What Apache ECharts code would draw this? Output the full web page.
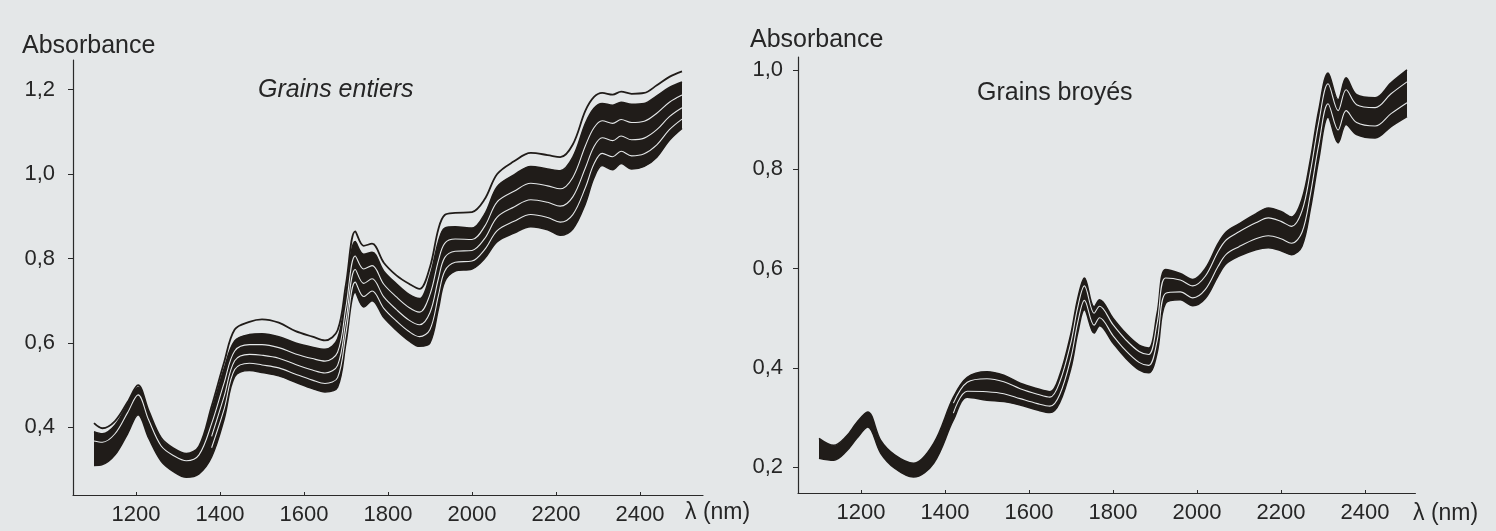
<!DOCTYPE html>
<html>
<head>
<meta charset="utf-8">
<title>Absorbance</title>
<script src="https://cdn.jsdelivr.net/npm/echarts@6/dist/echarts.min.js"></script>
<style>
  html, body { margin: 0; padding: 0; background: #e4e7e8; }
  #main { width: 1496px; height: 531px; }
</style>
</head>
<body>
<div id="main"></div>
<script>
// ---- données ----
// grains entiers (gauche)
const nmL = [1100,1120,1150,1180,1205,1230,1260,1290,1320,1350,1380,1410,1435,1470,1500,1540,1580,1620,1650,1680,1700,1722,1742,1762,1790,1820,1850,1875,1900,1920,1935,1960,2000,2030,2060,2100,2140,2180,2210,2240,2270,2290,2310,2335,2355,2380,2410,2440,2470,2500];
const hautL = [0.410,0.398,0.415,0.460,0.500,0.440,0.375,0.350,0.338,0.355,0.450,0.555,0.632,0.650,0.656,0.648,0.628,0.615,0.606,0.630,0.740,0.864,0.830,0.835,0.790,0.760,0.740,0.728,0.780,0.870,0.903,0.908,0.910,0.940,1.000,1.030,1.050,1.045,1.040,1.070,1.150,1.182,1.192,1.188,1.195,1.190,1.192,1.210,1.230,1.243];
const bandeHautL = [0.390,0.385,0.405,0.455,0.495,0.435,0.370,0.348,0.336,0.352,0.440,0.540,0.605,0.620,0.622,0.615,0.600,0.590,0.585,0.610,0.720,0.840,0.810,0.815,0.770,0.740,0.715,0.705,0.760,0.840,0.872,0.875,0.872,0.905,0.970,0.998,1.018,1.012,1.008,1.040,1.120,1.155,1.167,1.163,1.170,1.165,1.167,1.185,1.205,1.218];
const bandeBasL = [0.310,0.312,0.335,0.385,0.430,0.375,0.320,0.295,0.282,0.290,0.330,0.420,0.520,0.535,0.530,0.522,0.507,0.492,0.484,0.495,0.600,0.720,0.685,0.700,0.660,0.630,0.605,0.592,0.600,0.680,0.745,0.770,0.775,0.800,0.840,0.860,0.875,0.868,0.855,0.870,0.930,0.990,1.020,1.010,1.025,1.012,1.018,1.040,1.080,1.108];
// espaces clairs entre spectres
const trou1L = [0.368,0.365,0.385,0.435,0.477,0.418,0.356,0.333,0.321,0.335,0.409,0.506,0.581,0.596,0.596,0.589,0.574,0.563,0.557,0.578,0.686,0.806,0.775,0.783,0.739,0.709,0.684,0.673,0.715,0.795,0.836,0.846,0.845,0.876,0.934,0.959,0.978,0.972,0.965,0.992,1.067,1.109,1.126,1.120,1.129,1.122,1.125,1.144,1.170,1.187];
const trou2L = ['-','-','-','-','-','-','-','-','-','-',0.379,0.474,0.558,0.573,0.571,0.564,0.549,0.536,0.529,0.547,0.654,0.774,0.741,0.752,0.709,0.679,0.654,0.643,0.672,0.752,0.802,0.817,0.819,0.847,0.898,0.922,0.939,0.933,0.924,0.946,1.015,1.064,1.086,1.079,1.090,1.081,1.085,1.105,1.136,1.157];
const trou3L = ['-','-','-','-','-','-','-','-','-','-',0.352,0.444,0.537,0.552,0.548,0.541,0.526,0.512,0.504,0.518,0.624,0.744,0.710,0.723,0.682,0.652,0.627,0.615,0.632,0.712,0.770,0.791,0.794,0.821,0.866,0.888,0.904,0.897,0.886,0.904,0.968,1.023,1.049,1.041,1.054,1.043,1.048,1.069,1.105,1.130];

// grains broyés (droite)
const nmR = [1100,1135,1165,1190,1216,1247,1280,1325,1373,1420,1453,1500,1540,1579,1620,1650,1673,1700,1716,1732,1755,1768,1800,1830,1862,1885,1905,1925,1960,1990,2020,2050,2070,2100,2140,2170,2200,2225,2250,2270,2290,2312,2336,2355,2380,2424,2462,2500];
const bandeHautR = [0.258,0.244,0.262,0.290,0.311,0.254,0.225,0.208,0.248,0.341,0.381,0.392,0.385,0.369,0.358,0.352,0.385,0.470,0.540,0.581,0.523,0.537,0.500,0.470,0.446,0.440,0.510,0.598,0.590,0.578,0.600,0.650,0.674,0.690,0.710,0.722,0.715,0.704,0.740,0.820,0.920,0.994,0.940,0.984,0.950,0.944,0.974,1.000];
const bandeBasR = [0.218,0.214,0.232,0.258,0.281,0.228,0.198,0.180,0.208,0.295,0.341,0.335,0.332,0.325,0.315,0.310,0.330,0.400,0.470,0.517,0.470,0.485,0.450,0.420,0.396,0.390,0.430,0.530,0.537,0.525,0.540,0.585,0.610,0.625,0.638,0.642,0.636,0.628,0.645,0.720,0.820,0.905,0.853,0.890,0.870,0.863,0.886,0.906];
const trou1R = ['-','-','-','-','-','-','-','-','-',0.329,0.371,0.378,0.372,0.358,0.347,0.341,0.371,0.452,0.522,0.565,0.510,0.524,0.487,0.457,0.433,0.427,0.490,0.581,0.577,0.565,0.585,0.634,0.658,0.674,0.692,0.702,0.695,0.685,0.716,0.795,0.895,0.972,0.918,0.960,0.930,0.924,0.952,0.976];
const trou2R = ['-','-','-','-','-','-','-','-','-',0.309,0.353,0.352,0.348,0.338,0.328,0.323,0.346,0.421,0.491,0.536,0.486,0.501,0.465,0.435,0.411,0.405,0.454,0.550,0.553,0.541,0.558,0.604,0.629,0.644,0.660,0.666,0.660,0.651,0.673,0.750,0.850,0.932,0.879,0.918,0.894,0.887,0.912,0.934];

const ticksX = [1200,1400,1600,1800,2000,2200,2400];
const ticksYL = [0.4,0.6,0.8,1.0,1.2];
const ticksYR = [0.2,0.4,0.6,0.8,1.0];

const FOND = '#e4e7e8';
const ENCRE = '#201c19';
const TEXTE = '#262626';
const POLICE = 'Liberation Sans, Arial, sans-serif';

function paires(xs, ys) {
  return xs.map((x, i) => [x, ys[i]]);
}

function virgule(v) {
  return v.toFixed(1).replace('.', ',');
}

function axeX(idx, min, max) {
  return {
    type: 'value', gridIndex: idx, min: min, max: max,
    axisLine: { show: true, onZero: false, lineStyle: { color: '#2a2a2a', width: 1.2 } },
    axisTick: { show: true, inside: true, length: 3, customValues: ticksX, lineStyle: { color: '#2a2a2a' } },
    axisLabel: { customValues: ticksX, color: TEXTE, fontSize: 22, fontFamily: POLICE, margin: 9, formatter: v => String(v) },
    splitLine: { show: false },
    z: 5
  };
}

function axeY(idx, min, max, ticks, marge) {
  return {
    type: 'value', gridIndex: idx, min: min, max: max,
    axisLine: { show: true, lineStyle: { color: '#2a2a2a', width: 1.2 } },
    axisTick: { show: true, length: 5, customValues: ticks, lineStyle: { color: '#2a2a2a' } },
    axisLabel: { customValues: ticks, color: TEXTE, fontSize: 22, fontFamily: POLICE, margin: marge, formatter: virgule },
    splitLine: { show: false },
    z: 5
  };
}

function ligne(idx, xs, ys, couleur, largeur, aire) {
  const s = {
    type: 'line', xAxisIndex: idx, yAxisIndex: idx,
    data: paires(xs, ys), smooth: 0.35, symbol: 'none',
    lineStyle: { color: couleur, width: largeur },
    silent: true
  };
  if (aire) s.areaStyle = { color: aire, opacity: 1 };
  return s;
}

const chart = echarts.init(document.getElementById('main'), null, { renderer: 'canvas' });

// 0,42 px par nm dans les deux panneaux : les bords des aires tombent sur des pixels entiers
chart.setOption({
  backgroundColor: FOND,
  animation: false,
  grid: [
    { left: 73, top: 60, width: 630, height: 435 },
    { left: 798, top: 57, width: 617.4, height: 436 }
  ],
  xAxis: [axeX(0, 1050, 2550), axeX(1, 1050, 2520)],
  yAxis: [axeY(0, 0.24, 1.27, ticksYL, 18), axeY(1, 0.148, 1.026, ticksYR, 15)],
  series: [
    ligne(0, nmL, bandeHautL, ENCRE, 1.5, ENCRE),
    ligne(0, nmL, bandeBasL, ENCRE, 1.5, FOND),
    ligne(0, nmL, trou1L, FOND, 1.1),
    ligne(0, nmL, trou2L, FOND, 1.1),
    ligne(0, nmL, trou3L, FOND, 1.1),
    ligne(0, nmL, hautL, ENCRE, 1.8),
    ligne(1, nmR, bandeHautR, ENCRE, 1.5, ENCRE),
    ligne(1, nmR, bandeBasR, ENCRE, 1.5, FOND),
    ligne(1, nmR, trou1R, FOND, 1.1),
    ligne(1, nmR, trou2R, FOND, 1.1)
  ],
  graphic: [
    { type: 'text', left: 22, top: 34, style: { text: 'Absorbance', fill: TEXTE, font: '25px ' + POLICE } },
    { type: 'text', left: 750, top: 28, style: { text: 'Absorbance', fill: TEXTE, font: '25px ' + POLICE } },
    { type: 'text', left: 258, top: 78, style: { text: 'Grains entiers', fill: TEXTE, font: 'italic 25px ' + POLICE } },
    { type: 'text', left: 977, top: 81, style: { text: 'Grains broyés', fill: TEXTE, font: '25px ' + POLICE } },
    { type: 'text', left: 685, top: 501, style: { text: 'λ (nm)', fill: TEXTE, font: '23px ' + POLICE } },
    { type: 'text', left: 1413, top: 502, style: { text: 'λ (nm)', fill: TEXTE, font: '23px ' + POLICE } }
  ]
});
</script>
</body>
</html>
